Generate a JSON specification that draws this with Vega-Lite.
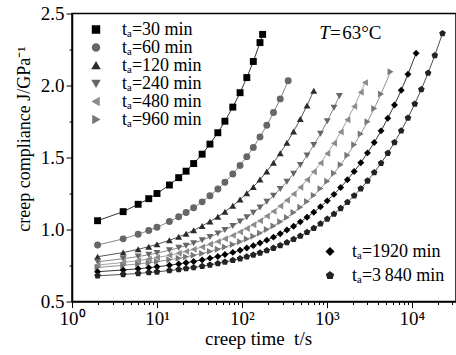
{
"$schema":"https://vega.github.io/schema/vega-lite/v6.json",
"width":384,"height":288,
"autosize":{"type":"none"},
"padding":{"left":72,"top":13.5,"right":0,"bottom":53.5},
"config":{"font":"Liberation Serif","view":{"stroke":"#000","strokeWidth":1.5},
 "axis":{"labelFont":"Liberation Serif","titleFont":"Liberation Serif","labelFontSize":19,"titleFontSize":18,"titleFontWeight":"normal","labelColor":"#000","titleColor":"#000","domainColor":"#000","tickColor":"#000","domainWidth":1.5,"tickWidth":1,"grid":false},
 "legend":{"labelFont":"Liberation Serif","labelFontSize":18,"labelColor":"#000"}},
"data":{"name":"d"},
"datasets":{"d":[
{"s":"30","t":2,"J":1.061},{"s":"30","t":4,"J":1.124},{"s":"30","t":6,"J":1.175},{"s":"30","t":8,"J":1.214},{"s":"30","t":10,"J":1.25},{"s":"30","t":14,"J":1.309},{"s":"30","t":18,"J":1.36},{"s":"30","t":22,"J":1.405},{"s":"30","t":27,"J":1.458},{"s":"30","t":34,"J":1.523},{"s":"30","t":42,"J":1.593},{"s":"30","t":52,"J":1.672},{"s":"30","t":63,"J":1.752},{"s":"30","t":78,"J":1.85},{"s":"30","t":95,"J":1.95},{"s":"30","t":114,"J":2.055},{"s":"30","t":136,"J":2.167},{"s":"30","t":163,"J":2.298},{"s":"30","t":175,"J":2.355},
{"s":"60","t":2,"J":0.892},{"s":"60","t":4,"J":0.935},{"s":"60","t":6,"J":0.967},{"s":"60","t":8,"J":0.993},{"s":"60","t":10,"J":1.015},{"s":"60","t":14,"J":1.055},{"s":"60","t":18,"J":1.088},{"s":"60","t":22,"J":1.118},{"s":"60","t":27,"J":1.151},{"s":"60","t":34,"J":1.192},{"s":"60","t":42,"J":1.234},{"s":"60","t":52,"J":1.281},{"s":"60","t":63,"J":1.328},{"s":"60","t":78,"J":1.386},{"s":"60","t":95,"J":1.445},{"s":"60","t":114,"J":1.506},{"s":"60","t":136,"J":1.57},{"s":"60","t":163,"J":1.643},{"s":"60","t":196,"J":1.724},{"s":"60","t":235,"J":1.812},{"s":"60","t":282,"J":1.907},{"s":"60","t":350,"J":2.033},
{"s":"120","t":2,"J":0.811},{"s":"120","t":4,"J":0.84},{"s":"120","t":6,"J":0.862},{"s":"120","t":8,"J":0.881},{"s":"120","t":10,"J":0.897},{"s":"120","t":14,"J":0.925},{"s":"120","t":18,"J":0.949},{"s":"120","t":22,"J":0.97},{"s":"120","t":27,"J":0.994},{"s":"120","t":34,"J":1.025},{"s":"120","t":42,"J":1.055},{"s":"120","t":52,"J":1.089},{"s":"120","t":63,"J":1.123},{"s":"120","t":78,"J":1.165},{"s":"120","t":95,"J":1.208},{"s":"120","t":114,"J":1.251},{"s":"120","t":136,"J":1.296},{"s":"120","t":163,"J":1.347},{"s":"120","t":196,"J":1.403},{"s":"120","t":235,"J":1.464},{"s":"120","t":282,"J":1.53},{"s":"120","t":338,"J":1.602},{"s":"120","t":405,"J":1.681},{"s":"120","t":486,"J":1.767},{"s":"120","t":583,"J":1.861},{"s":"120","t":700,"J":1.964},
{"s":"240","t":2,"J":0.776},{"s":"240","t":4,"J":0.797},{"s":"240","t":6,"J":0.812},{"s":"240","t":8,"J":0.825},{"s":"240","t":10,"J":0.836},{"s":"240","t":14,"J":0.856},{"s":"240","t":18,"J":0.873},{"s":"240","t":22,"J":0.888},{"s":"240","t":27,"J":0.905},{"s":"240","t":34,"J":0.926},{"s":"240","t":42,"J":0.948},{"s":"240","t":52,"J":0.972},{"s":"240","t":63,"J":0.996},{"s":"240","t":78,"J":1.025},{"s":"240","t":95,"J":1.055},{"s":"240","t":114,"J":1.085},{"s":"240","t":136,"J":1.117},{"s":"240","t":163,"J":1.153},{"s":"240","t":196,"J":1.192},{"s":"240","t":235,"J":1.235},{"s":"240","t":282,"J":1.282},{"s":"240","t":338,"J":1.332},{"s":"240","t":405,"J":1.388},{"s":"240","t":486,"J":1.448},{"s":"240","t":583,"J":1.514},{"s":"240","t":700,"J":1.587},{"s":"240","t":840,"J":1.665},{"s":"240","t":1008,"J":1.752},{"s":"240","t":1210,"J":1.846},{"s":"240","t":1400,"J":1.927},
{"s":"480","t":2,"J":0.753},{"s":"480","t":4,"J":0.771},{"s":"480","t":6,"J":0.784},{"s":"480","t":8,"J":0.795},{"s":"480","t":10,"J":0.805},{"s":"480","t":14,"J":0.821},{"s":"480","t":18,"J":0.835},{"s":"480","t":22,"J":0.848},{"s":"480","t":27,"J":0.862},{"s":"480","t":34,"J":0.879},{"s":"480","t":42,"J":0.897},{"s":"480","t":52,"J":0.916},{"s":"480","t":63,"J":0.936},{"s":"480","t":78,"J":0.959},{"s":"480","t":95,"J":0.983},{"s":"480","t":114,"J":1.007},{"s":"480","t":136,"J":1.033},{"s":"480","t":163,"J":1.061},{"s":"480","t":196,"J":1.093},{"s":"480","t":235,"J":1.126},{"s":"480","t":282,"J":1.163},{"s":"480","t":338,"J":1.203},{"s":"480","t":405,"J":1.246},{"s":"480","t":486,"J":1.293},{"s":"480","t":583,"J":1.345},{"s":"480","t":700,"J":1.401},{"s":"480","t":840,"J":1.461},{"s":"480","t":1008,"J":1.528},{"s":"480","t":1210,"J":1.599},{"s":"480","t":1450,"J":1.677},{"s":"480","t":1740,"J":1.762},{"s":"480","t":2090,"J":1.855},{"s":"480","t":2500,"J":1.953},{"s":"480","t":2800,"J":2.02},
{"s":"960","t":2,"J":0.737},{"s":"960","t":4,"J":0.751},{"s":"960","t":6,"J":0.761},{"s":"960","t":8,"J":0.769},{"s":"960","t":10,"J":0.777},{"s":"960","t":14,"J":0.79},{"s":"960","t":18,"J":0.8},{"s":"960","t":22,"J":0.81},{"s":"960","t":27,"J":0.821},{"s":"960","t":34,"J":0.834},{"s":"960","t":42,"J":0.848},{"s":"960","t":52,"J":0.863},{"s":"960","t":63,"J":0.878},{"s":"960","t":78,"J":0.896},{"s":"960","t":95,"J":0.915},{"s":"960","t":114,"J":0.934},{"s":"960","t":136,"J":0.953},{"s":"960","t":163,"J":0.975},{"s":"960","t":196,"J":1.0},{"s":"960","t":235,"J":1.025},{"s":"960","t":282,"J":1.054},{"s":"960","t":338,"J":1.084},{"s":"960","t":405,"J":1.118},{"s":"960","t":486,"J":1.154},{"s":"960","t":583,"J":1.194},{"s":"960","t":700,"J":1.237},{"s":"960","t":840,"J":1.284},{"s":"960","t":1008,"J":1.335},{"s":"960","t":1210,"J":1.391},{"s":"960","t":1450,"J":1.45},{"s":"960","t":1740,"J":1.516},{"s":"960","t":2090,"J":1.588},{"s":"960","t":2500,"J":1.664},{"s":"960","t":3000,"J":1.748},{"s":"960","t":3600,"J":1.84},{"s":"960","t":4330,"J":1.941},{"s":"960","t":5600,"J":2.096},
{"s":"1920","t":2,"J":0.707},{"s":"1920","t":4,"J":0.719},{"s":"1920","t":6,"J":0.727},{"s":"1920","t":8,"J":0.735},{"s":"1920","t":10,"J":0.741},{"s":"1920","t":14,"J":0.752},{"s":"1920","t":18,"J":0.761},{"s":"1920","t":22,"J":0.769},{"s":"1920","t":27,"J":0.778},{"s":"1920","t":34,"J":0.789},{"s":"1920","t":42,"J":0.801},{"s":"1920","t":52,"J":0.813},{"s":"1920","t":63,"J":0.826},{"s":"1920","t":78,"J":0.841},{"s":"1920","t":95,"J":0.856},{"s":"1920","t":114,"J":0.872},{"s":"1920","t":136,"J":0.888},{"s":"1920","t":163,"J":0.906},{"s":"1920","t":196,"J":0.926},{"s":"1920","t":235,"J":0.947},{"s":"1920","t":282,"J":0.971},{"s":"1920","t":338,"J":0.996},{"s":"1920","t":405,"J":1.023},{"s":"1920","t":486,"J":1.053},{"s":"1920","t":583,"J":1.085},{"s":"1920","t":700,"J":1.12},{"s":"1920","t":840,"J":1.158},{"s":"1920","t":1008,"J":1.199},{"s":"1920","t":1210,"J":1.244},{"s":"1920","t":1450,"J":1.292},{"s":"1920","t":1740,"J":1.345},{"s":"1920","t":2090,"J":1.403},{"s":"1920","t":2500,"J":1.464},{"s":"1920","t":3000,"J":1.532},{"s":"1920","t":3600,"J":1.604},{"s":"1920","t":4330,"J":1.685},{"s":"1920","t":5200,"J":1.772},{"s":"1920","t":6230,"J":1.865},{"s":"1920","t":7480,"J":1.967},{"s":"1920","t":8980,"J":2.078},{"s":"1920","t":11200,"J":2.224},
{"s":"3840","t":2,"J":0.679},{"s":"3840","t":4,"J":0.688},{"s":"3840","t":6,"J":0.695},{"s":"3840","t":8,"J":0.701},{"s":"3840","t":10,"J":0.706},{"s":"3840","t":14,"J":0.715},{"s":"3840","t":18,"J":0.722},{"s":"3840","t":22,"J":0.729},{"s":"3840","t":27,"J":0.736},{"s":"3840","t":34,"J":0.745},{"s":"3840","t":42,"J":0.754},{"s":"3840","t":52,"J":0.764},{"s":"3840","t":63,"J":0.774},{"s":"3840","t":78,"J":0.786},{"s":"3840","t":95,"J":0.798},{"s":"3840","t":114,"J":0.811},{"s":"3840","t":136,"J":0.824},{"s":"3840","t":163,"J":0.838},{"s":"3840","t":196,"J":0.854},{"s":"3840","t":235,"J":0.871},{"s":"3840","t":282,"J":0.89},{"s":"3840","t":338,"J":0.91},{"s":"3840","t":405,"J":0.932},{"s":"3840","t":486,"J":0.955},{"s":"3840","t":583,"J":0.981},{"s":"3840","t":700,"J":1.009},{"s":"3840","t":840,"J":1.04},{"s":"3840","t":1008,"J":1.073},{"s":"3840","t":1210,"J":1.108},{"s":"3840","t":1450,"J":1.147},{"s":"3840","t":1740,"J":1.189},{"s":"3840","t":2090,"J":1.235},{"s":"3840","t":2500,"J":1.284},{"s":"3840","t":3000,"J":1.338},{"s":"3840","t":3600,"J":1.396},{"s":"3840","t":4330,"J":1.461},{"s":"3840","t":5200,"J":1.53},{"s":"3840","t":6230,"J":1.605},{"s":"3840","t":7480,"J":1.686},{"s":"3840","t":8980,"J":1.775},{"s":"3840","t":10800,"J":1.872},{"s":"3840","t":12900,"J":1.973},{"s":"3840","t":15500,"J":2.087},{"s":"3840","t":18600,"J":2.209},{"s":"3840","t":22900,"J":2.362}
]},
"encoding":{
 "x":{"field":"t","type":"quantitative","scale":{"type":"log","domain":[1,33000],"nice":false},
  "axis":{"title":"creep time\u2002t/s","titleFontSize":19,"values":[1,2,3,4,5,6,7,8,9,10,20,30,40,50,60,70,80,90,100,200,300,400,500,600,700,800,900,1000,2000,3000,4000,5000,6000,7000,8000,9000,10000,20000,30000],
   "labelExpr":"datum.value==1?'10⁰':datum.value==10?'10¹':datum.value==100?'10²':datum.value==1000?'10³':datum.value==10000?'10⁴':''",
   "tickSize":{"condition":{"test":"indexof([1,10,100,1000,10000], datum.value) >= 0","value":6},"value":3},
   "labelOverlap":false,"labelBound":false,"labelFlush":false,"labelPadding":2,"titleX":186,"titleY":37,"titleBaseline":"middle","titleAlign":"center"}},
 "y":{"field":"J","type":"quantitative","scale":{"domain":[0.5,2.5],"nice":false,"zero":false},
  "axis":{"title":"creep compliance J/GPa⁻¹","values":[0.5,0.75,1,1.25,1.5,1.75,2,2.25,2.5],
   "labelExpr":"(datum.value*2)%1==0?format(datum.value,'.1f'):''",
   "tickSize":{"condition":{"test":"(datum.value*2)%1==0","value":6},"value":3},
   "labelOverlap":false,"labelBound":false,"labelFlush":false,"labelPadding":2,"titleX":-48,"titleY":125,"titleBaseline":"middle","titleAlign":"center","titleAngle":-90}}
},
"layer":[
 {"transform":[{"filter":{"field":"s","oneOf":["30","60","120","240","480","960"]}}],
  "layer":[
   {"mark":{"type":"line","strokeWidth":0.8},
    "encoding":{"color":{"field":"s","type":"nominal","scale":{"domain":["30","60","120","240","480","960"],"range":["#000000","#666666","#2b2b2b","#666666","#8c8c8c","#777777"]},
      "legend":{"orient":"none","legendX":15,"legendY":7,"title":null,"symbolSize":48,"symbolOffset":0,"labelOffset":17,"rowPadding":0,"padding":0,"labelExpr":"'tₐ=' + datum.label + ' min'"}}}},
   {"mark":{"type":"point","filled":true,"size":48,"opacity":1},
    "encoding":{
     "color":{"field":"s","type":"nominal","scale":{"domain":["30","60","120","240","480","960"],"range":["#000000","#666666","#2b2b2b","#666666","#8c8c8c","#777777"]}},
     "shape":{"field":"s","type":"nominal","scale":{"domain":["30","60","120","240","480","960"],"range":["square","circle","triangle-up","triangle-down","triangle-left","triangle-right"]},"legend":null}}}
  ]},
 {"transform":[{"filter":{"field":"s","oneOf":["1920","3840"]}}],
  "layer":[
   {"mark":{"type":"line","strokeWidth":0.8},
    "encoding":{"color":{"field":"s","type":"nominal","scale":{"domain":["1920","3840"],"range":["#000000","#222222"]},
      "legend":{"orient":"none","legendX":249,"legendY":229,"title":null,"symbolSize":48,"symbolOffset":0,"labelOffset":13,"rowPadding":6,"padding":0,"labelExpr":"'tₐ=' + (datum.label=='3840'?'3\u2009840':datum.label) + ' min'"}}}},
   {"mark":{"type":"point","filled":true,"size":48,"opacity":1},
    "encoding":{
     "color":{"field":"s","type":"nominal","scale":{"domain":["1920","3840"],"range":["#000000","#222222"]}},
     "shape":{"field":"s","type":"nominal","scale":{"domain":["1920","3840"],"range":["diamond","M0,-1L0.951,-0.309L0.588,0.809L-0.588,0.809L-0.951,-0.309Z"]},"legend":null}}}
  ]},
 {"data":{"values":[{"t":1084,"J":2.365,"txt":"T"}]},
  "mark":{"type":"text","font":"Liberation Serif","fontSize":19,"fontStyle":"italic","align":"right","baseline":"middle"},
  "encoding":{"text":{"field":"txt"}}},
 {"data":{"values":[{"t":1084,"J":2.365,"txt":"\u200a=\u200a63°C"}]},
  "mark":{"type":"text","font":"Liberation Serif","fontSize":19,"align":"left","baseline":"middle"},
  "encoding":{"text":{"field":"txt"}}}
],
"resolve":{"scale":{"color":"independent","shape":"independent"}}
}
